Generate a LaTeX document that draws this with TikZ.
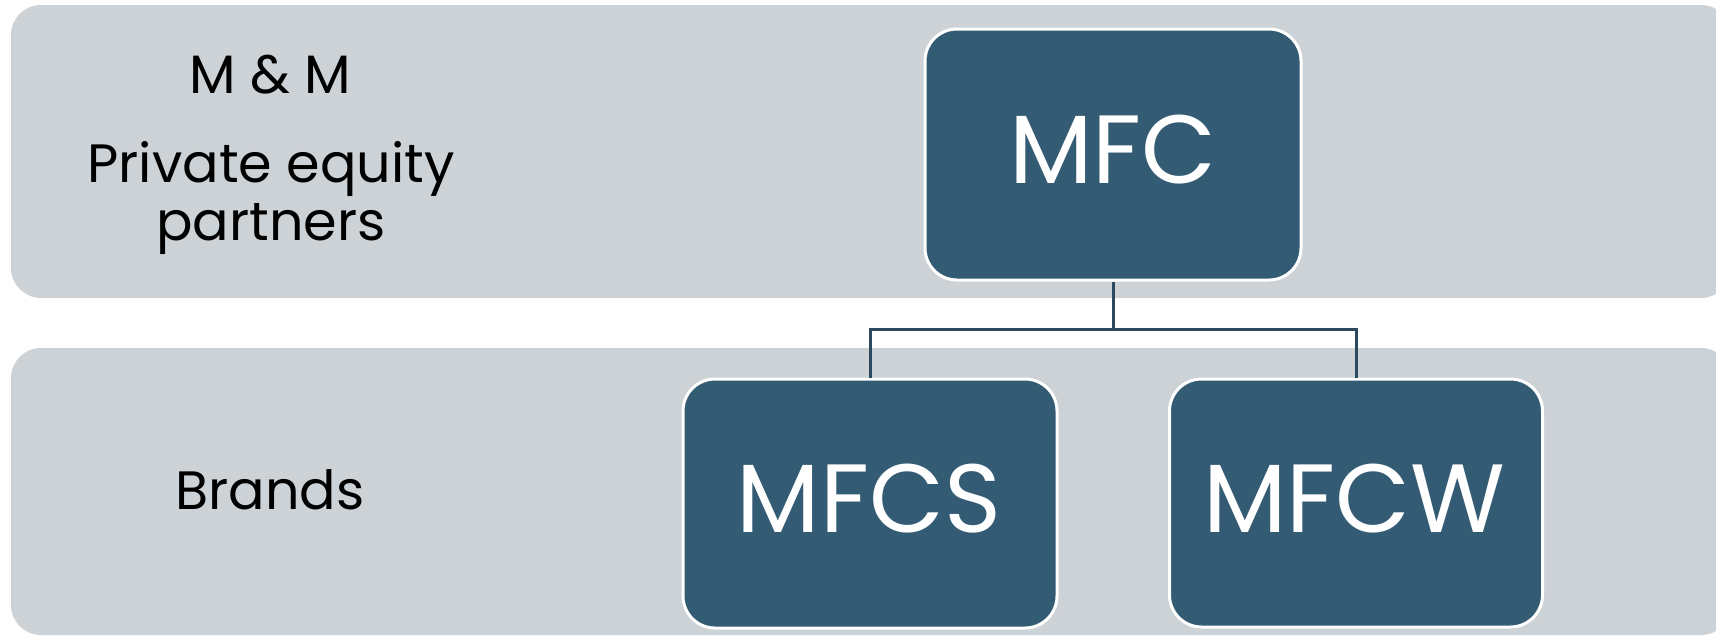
\documentclass[tikz,border=0pt]{standalone}
\usepackage{fontspec}
\setmainfont{Poppins}
\definecolor{bandgrey}{HTML}{CDD2D6}
\definecolor{boxblue}{HTML}{345B74}
\definecolor{linkblue}{HTML}{2B4A5F}
\tikzset{
  bandbox/.style={fill=bandgrey, rounded corners=30pt, inner sep=0pt},
  orgbox/.style={fill=boxblue, draw=white, line width=3pt, rounded corners=32pt,
    text=white, font=\fontsize{97}{100}\selectfont, inner sep=0pt},
  sidelabel/.style={text=black, font=\fontsize{54}{58}\selectfont, inner sep=0pt, anchor=base},
  link/.style={draw=linkblue, line width=3pt}
}
\begin{document}
\begin{tikzpicture}[x=1pt,y=-1pt]
  \useasboundingbox (0,0) rectangle (1716,637);
  \clip (0,0) rectangle (1716,637);
  % background bands
  \node[bandbox, minimum width=1720pt, minimum height=293pt] (bandtop) at (871,151.5) {};
  \node[bandbox, minimum width=1720pt, minimum height=287pt] (bandlow) at (871,491.5) {};
  % row labels
  \node[sidelabel] (mm) at (270,93) {M \& M};
  \node[sidelabel] (pe) at (271,182) {Private equity};
  \node[sidelabel] (pt) at (271,240) {partners};
  \node[sidelabel] (br) at (270,509) {Brands};
  % organisation boxes
  \node[orgbox, minimum width=376pt, minimum height=251pt] (mfc) at (1113,154.5) {};
  \node[orgbox, minimum width=374pt, minimum height=249pt] (mfcs) at (870,503.5) {};
  \node[orgbox, minimum width=373pt, minimum height=248pt] (mfcw) at (1356,503) {};
  \node[text=white, font=\fontsize{97}{100}\selectfont, inner sep=0pt, anchor=base] (tmfc) at (1113,183) {MFC};
  \node[text=white, font=\fontsize{97}{100}\selectfont, inner sep=0pt, anchor=base] (tmfcs) at (869,532) {MFCS};
  \node[text=white, font=\fontsize{97}{100}\selectfont, inner sep=0pt, anchor=base] (tmfcw) at (1354,532) {MFCW};
  % connectors
  \coordinate (split) at (1113,329);
  \draw[link] (mfc.south) -- (split);
  \draw[link] (split) -| (mfcs.north);
  \draw[link] (split) -| (mfcw.north);
\end{tikzpicture}
\end{document}
